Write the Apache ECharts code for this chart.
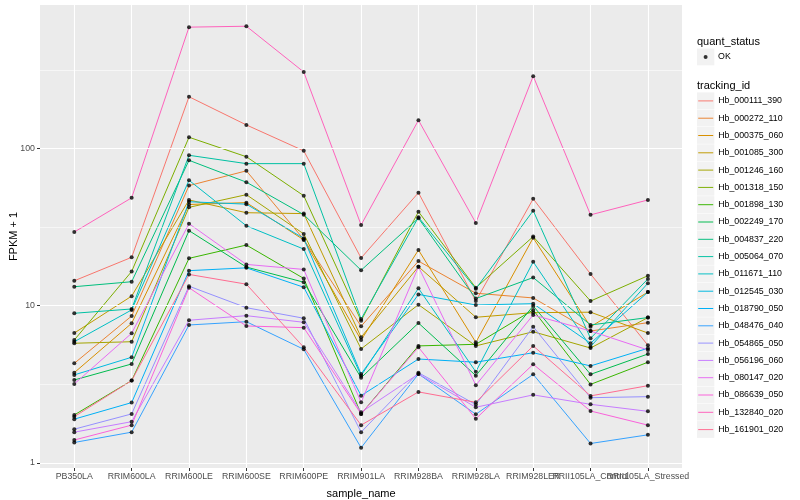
<!DOCTYPE html>
<html><head><meta charset="utf-8">
<script src="https://cdn.jsdelivr.net/npm/echarts@6/dist/echarts.min.js"></script>
<style>html,body{margin:0;padding:0;background:#fff}#c{width:800px;height:500px}</style>
</head><body><div id="c"></div>
<script>
const categories = ['PB350LA','RRIM600LA','RRIM600LE','RRIM600SE','RRIM600PE','RRIM901LA','RRIM928BA','RRIM928LA','RRIM928LER','RRII105LA_Control','RRII105LA_Stressed'];
const trackingIds = ['Hb_000111_390','Hb_000272_110','Hb_000375_060','Hb_001085_300','Hb_001246_160','Hb_001318_150','Hb_001898_130','Hb_002249_170','Hb_004837_220','Hb_005064_070','Hb_011671_110','Hb_012545_030','Hb_018790_050','Hb_048476_040','Hb_054865_050','Hb_056196_060','Hb_080147_020','Hb_086639_050','Hb_132840_020','Hb_161901_020'];
const lineColors = ['#F8766D','#EA8331','#D89000','#C09B00','#A3A500','#7CAE00','#39B600','#00BB4E','#00BF7D','#00C1A3','#00BFC4','#00BAE0','#00B0F6','#35A2FF','#9590FF','#C77CFF','#E76BF3','#FA62DB','#FF62BC','#FF6C91'];
const yTickLabels = [1, 10, 100];
const yMinorLines = [3.162, 31.62, 316.2];

const Hb_000111_390 = [14.4, 20.3, 213, 141, 96.5, 20.1, 52.3, 10.7, 47.8, 15.9, 5.6];
const Hb_000272_110 = [4.30, 8.60, 58, 72, 26.4, 7.40, 19.2, 12.0, 11.2, 6.90, 7.80];
const Hb_000375_060 = [3.75, 7.73, 44, 45.2, 26.2, 6.05, 22.6, 5.85, 27.0, 7.35, 12.2];
const Hb_001085_300 = [6.70, 11.5, 47, 39, 38.5, 6.30, 17.7, 8.44, 9.03, 9.09, 6.70];
const Hb_001246_160 = [5.77, 5.90, 42.2, 50.8, 28.6, 5.31, 10.15, 5.55, 6.83, 5.38, 8.40];
const Hb_001318_150 = [6.05, 16.5, 117.7, 88.5, 50, 8.03, 39.6, 13.0, 27.5, 10.7, 15.5];
const Hb_001898_130 = [2.02, 3.34, 20.0, 24.3, 14.9, 2.05, 5.55, 5.68, 9.40, 3.16, 4.37];
const Hb_002249_170 = [3.37, 4.26, 30, 17.6, 14.1, 3.48, 7.76, 3.59, 9.96, 3.66, 4.93];
const Hb_004837_220 = [13.2, 14.2, 84, 61, 37.9, 16.8, 36, 11.1, 15.1, 7.54, 8.4];
const Hb_005064_070 = [8.95, 9.53, 90.4, 80, 80, 8.23, 36.5, 12.8, 40.2, 6.2, 14.8];
const Hb_011671_110 = [5.9, 9.4, 62.7, 32.2, 22.9, 3.59, 12.9, 3.80, 19.0, 5.49, 13.9];
const Hb_012545_030 = [3.63, 4.70, 45.8, 44.2, 26.8, 3.68, 11.8, 10.1, 10.3, 5.77, 12.2];
const Hb_018790_050 = [1.90, 2.42, 16.7, 17.4, 13.1, 2.68, 4.58, 4.37, 5.02, 4.14, 5.36];
const Hb_048476_040 = [1.35, 1.57, 7.54, 7.91, 5.28, 1.25, 3.68, 2.04, 3.66, 1.33, 1.51];
const Hb_054865_050 = [1.64, 2.05, 13.3, 9.71, 8.32, 1.57, 3.75, 2.35, 7.35, 2.60, 2.64];
const Hb_056196_060 = [1.57, 1.83, 8.08, 8.64, 7.84, 2.10, 3.68, 2.26, 2.71, 2.36, 2.13];
const Hb_080147_020 = [3.18, 6.68, 33.2, 18.3, 17.0, 2.43, 17.7, 3.12, 8.73, 6.90, 5.23];
const Hb_086639_050 = [1.40, 1.74, 13.0, 7.43, 7.25, 2.05, 5.44, 1.91, 4.24, 2.14, 1.74];
const Hb_132840_020 = [29.4, 48.5, 590, 598, 306, 32.6, 151, 33.6, 288, 37.8, 47];
const Hb_161901_020 = [1.97, 3.34, 15.8, 13.7, 5.44, 1.74, 2.83, 2.43, 5.55, 2.67, 3.10];

const seriesValues = [Hb_000111_390, Hb_000272_110, Hb_000375_060, Hb_001085_300, Hb_001246_160, Hb_001318_150, Hb_001898_130, Hb_002249_170, Hb_004837_220, Hb_005064_070, Hb_011671_110, Hb_012545_030, Hb_018790_050, Hb_048476_040, Hb_054865_050, Hb_056196_060, Hb_080147_020, Hb_086639_050, Hb_132840_020, Hb_161901_020];

const FONT = '"Liberation Sans", Arial, Helvetica, sans-serif';
const Y_MIN = 0.929, Y_MAX = 816;
const LEG_X = 697, LEG_TOP = 92.4, LEG_STEP = 17.3;

const lineSeries = trackingIds.map((id, i) => ({
  name: id, type: 'line', xAxisIndex: 1, yAxisIndex: 1,
  data: seriesValues[i], showSymbol: false, symbol: 'none',
  lineStyle: {color: lineColors[i], width: 1}, itemStyle: {color: lineColors[i]},
  emphasis: {disabled: true}, z: 3
}));

const okPoints = [];
seriesValues.forEach(vals => vals.forEach((v, j) => okPoints.push([categories[j], v])));

const keyBoxes = [{type: 'rect', z: -1, shape: {x: LEG_X, y: 48.5, width: 17.3, height: 16.8}, style: {fill: '#F2F2F2'}}];
trackingIds.forEach((id, i) => keyBoxes.push({type: 'rect', z: -1, shape: {x: LEG_X, y: LEG_TOP + i * LEG_STEP, width: 17.3, height: 16.8}, style: {fill: '#F2F2F2'}}));

const gridBase = {outerBoundsMode: 'none', containLabel: false};

const option = {
  animation: false,
  backgroundColor: '#fff',
  textStyle: {fontFamily: FONT},
  title: [
    {text: 'quant_status', left: LEG_X, top: 35.5, padding: 0, textStyle: {fontSize: 11, fontWeight: 'normal', color: '#000', fontFamily: FONT, lineHeight: 12}},
    {text: 'tracking_id', left: LEG_X, top: 79.5, padding: 0, textStyle: {fontSize: 11, fontWeight: 'normal', color: '#000', fontFamily: FONT, lineHeight: 12}}
  ],
  graphic: {elements: keyBoxes},
  legend: [
    {data: ['OK'], left: LEG_X + 6.6, top: 48.5, orient: 'vertical', padding: 0, itemWidth: 15, itemHeight: 4,
     icon: 'path://M2,0 A2,2 0 1 1 2,4 A2,2 0 1 1 2,0 Z', symbolKeepAspect: true,
     itemStyle: {color: '#000'},
     textStyle: {fontSize: 8.8, color: '#000', fontFamily: FONT, lineHeight: 17}, selectedMode: false},
    {data: trackingIds.map((id, i) => ({name: id, itemStyle: {color: lineColors[i]}})),
     left: LEG_X + 1.2, top: LEG_TOP, orient: 'vertical', padding: 0, itemGap: 0.3, itemWidth: 15, itemHeight: 17,
     icon: 'path://M0,0 L20,0 L20,1.3 L0,1.3 Z', symbolKeepAspect: true,
     textStyle: {fontSize: 8.8, color: '#000', fontFamily: FONT, lineHeight: 17}, selectedMode: false}
  ],
  grid: [
    Object.assign({left: 40, top: 5, right: 118, bottom: 32, show: true, backgroundColor: '#EBEBEB', borderWidth: 0}, gridBase),
    Object.assign({left: 45.6, top: 5, width: 631, bottom: 32, show: false}, gridBase),
    Object.assign({left: 37, top: 5, width: 3, bottom: 32, show: false}, gridBase)
  ],
  xAxis: [
    {gridIndex: 0, type: 'value', min: 0, max: 1, show: false},
    {gridIndex: 1, type: 'category', data: categories, boundaryGap: true,
     axisLine: {show: false}, splitLine: {show: false},
     axisTick: {show: true, alignWithLabel: true, length: 3, lineStyle: {color: '#333', width: 1}},
     axisLabel: {interval: 0, hideOverlap: false, fontSize: 8.8, color: '#4D4D4D', margin: 4, fontFamily: FONT},
     name: 'sample_name', nameLocation: 'middle', nameGap: 20, nameMoveOverlap: false, nameTextStyle: {fontSize: 11, color: '#000', fontFamily: FONT}},
    {gridIndex: 2, type: 'value', min: 0, max: 1, show: false}
  ],
  yAxis: [
    {gridIndex: 0, type: 'log', logBase: 10, min: Y_MIN, max: Y_MAX,
     axisLine: {show: false}, splitLine: {show: false}, axisTick: {show: false},
     axisLabel: {fontSize: 8.8, color: '#4D4D4D', margin: 5, fontFamily: FONT,
       formatter: v => { const r = yTickLabels.find(t => Math.abs(t - v) / t < 1e-6); return r ? String(r) : ''; }},
     name: 'FPKM + 1', nameLocation: 'middle', nameGap: 21, nameRotate: 90, nameMoveOverlap: false,
     nameTextStyle: {fontSize: 11, color: '#000', fontFamily: FONT}},
    {gridIndex: 1, type: 'log', logBase: 10, min: Y_MIN, max: Y_MAX, show: false, splitLine: {show: false}},
    {gridIndex: 2, type: 'log', logBase: 10, min: Y_MIN, max: Y_MAX, show: false, splitLine: {show: false}}
  ],
  series: [
    {type: 'line', name: '_hgrid', xAxisIndex: 0, yAxisIndex: 0, data: [], silent: true, z: 1,
     markLine: {silent: true, symbol: ['none', 'none'], label: {show: false}, animation: false,
       data: yTickLabels.map(v => ({yAxis: v, lineStyle: {color: '#fff', width: 1.1, type: 'solid'}}))
         .concat(yMinorLines.map(v => ({yAxis: v, lineStyle: {color: '#fff', width: 0.55, type: 'solid'}})))}},
    {type: 'line', name: '_vgrid', xAxisIndex: 1, yAxisIndex: 1, data: [], silent: true, z: 1,
     markLine: {silent: true, symbol: ['none', 'none'], label: {show: false}, animation: false,
       data: categories.map(c => ({xAxis: c, lineStyle: {color: '#fff', width: 1.1, type: 'solid'}}))}},
    {type: 'line', name: '_yticks', xAxisIndex: 2, yAxisIndex: 2, data: [], silent: true, z: 1,
     markLine: {silent: true, symbol: ['none', 'none'], label: {show: false}, animation: false,
       data: yTickLabels.map(v => ({yAxis: v, lineStyle: {color: '#333', width: 1, type: 'solid'}}))}}
  ].concat(lineSeries).concat([
    {name: 'OK', type: 'scatter', xAxisIndex: 1, yAxisIndex: 1, data: okPoints, symbol: 'circle', symbolSize: 4,
     itemStyle: {color: '#000'}, emphasis: {disabled: true}, z: 5, silent: true}
  ])
};
const chart = echarts.init(document.getElementById('c'), null, {renderer: 'canvas'});
chart.setOption(option);
</script></body></html>
